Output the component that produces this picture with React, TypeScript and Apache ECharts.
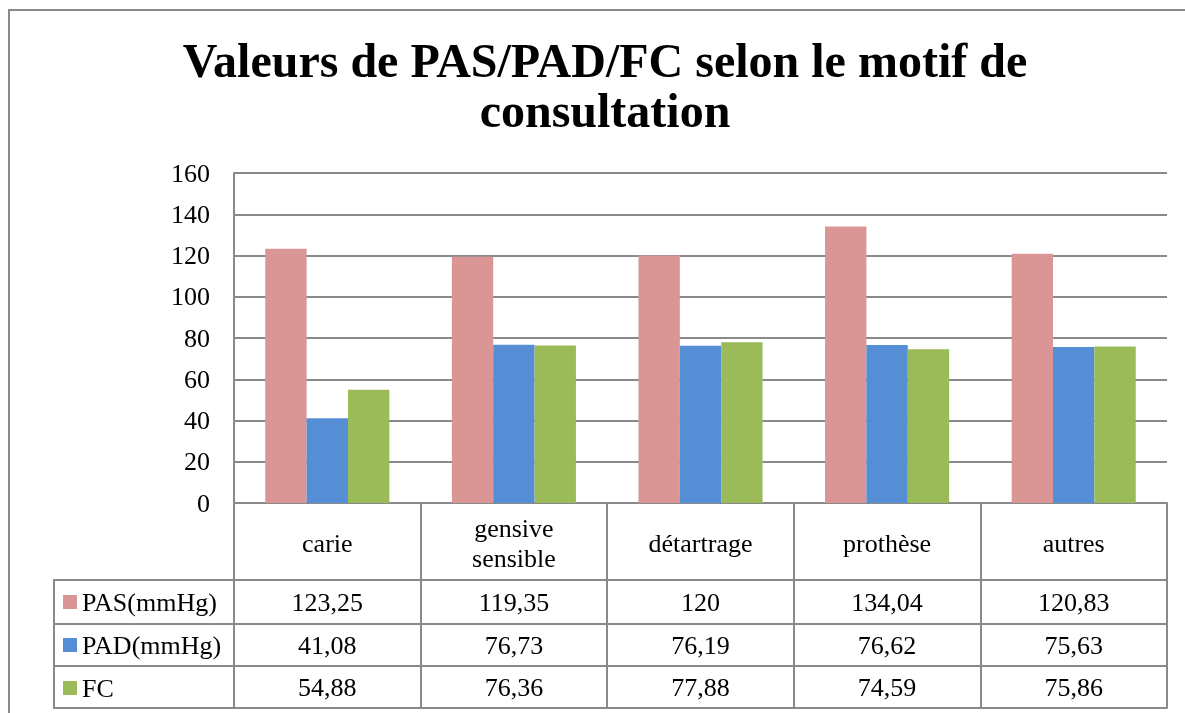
import React, { useEffect, useRef } from "react";
import * as echarts from "echarts";

const categories = ["carie", "gensive sensible", "détartrage", "prothèse", "autres"];
const seriesNames = ["PAS(mmHg)", "PAD(mmHg)", "FC"];
const pasValues = [123.25, 119.35, 120, 134.04, 120.83];
const padValues = [41.08, 76.73, 76.19, 76.62, 75.63];
const fcValues = [54.88, 76.36, 77.88, 74.59, 75.86];
const yTicks = { min: 0, max: 160, interval: 20 };
const titleLines = ["Valeurs de PAS/PAD/FC selon le motif de", "consultation"];

const colors = ["#D99694", "#558ED5", "#9BBB59"];
const FONT = "Times New Roman";
const GRID = "#8a8a8a";

const fmt = (v: number) => String(v).replace(".", ",");

export default function App() {
  const ref = useRef<HTMLDivElement>(null);
  useEffect(() => {
    if (!ref.current) return;
    const chart = echarts.init(ref.current, null, { renderer: "svg" });
    const allSeries = [pasValues, padValues, fcValues];
    const rowTop = [580, 624, 666, 708];
    const zeroY = 503;
    const labelStyle = { color: "#000", fontFamily: FONT, fontSize: 26 };
    const tableAxis = (idx: number) => {
      const vals = allSeries[idx];
      const top = rowTop[idx];
      const bottom = rowTop[idx + 1];
      return {
        type: "category",
        gridIndex: 0,
        position: "bottom",
        offset: top - zeroY,
        data: vals.map(fmt),
        axisLine: { show: true, lineStyle: { color: GRID, width: 2 } },
        axisTick: { show: true, length: bottom - top, interval: 0, lineStyle: { color: GRID, width: 2 } },
        axisLabel: {
          ...labelStyle,
          interval: 0,
          margin: (bottom - top) / 2,
          verticalAlign: "middle",
        },
      };
    };
    const option = {
      animation: false,
      color: colors,
      textStyle: { fontFamily: FONT },
      grid: { left: 234, right: 18, top: 173, bottom: 713 - zeroY, containLabel: false },
      legend: {
        orient: "vertical",
        left: 63,
        top: 589,
        padding: 0,
        itemWidth: 14,
        itemHeight: 14,
        itemGap: 17,
        icon: "rect",
        data: seriesNames,
        textStyle: { ...labelStyle, lineHeight: 26 },
        selectedMode: false,
      },
      xAxis: [
        {
          type: "category",
          position: "bottom",
          data: categories,
          axisLine: { show: true, lineStyle: { color: GRID, width: 2 } },
          axisTick: { show: true, length: 77, interval: 0, lineStyle: { color: GRID, width: 2 } },
          axisLabel: {
            ...labelStyle,
            interval: 0,
            margin: 40,
            verticalAlign: "middle",
            lineHeight: 30,
            formatter: (v: string) => (v === "gensive sensible" ? "gensive\nsensible" : v),
          },
        },
        tableAxis(0),
        tableAxis(1),
        tableAxis(2),
        {
          type: "category",
          position: "bottom",
          offset: 708 - zeroY,
          data: categories,
          axisLine: { show: true, lineStyle: { color: GRID, width: 2 } },
          axisTick: { show: false },
          axisLabel: { show: false },
        },
      ],
      yAxis: {
        type: "value",
        min: yTicks.min,
        max: yTicks.max,
        interval: yTicks.interval,
        axisLine: { show: true, lineStyle: { color: GRID, width: 2 } },
        axisTick: { show: false },
        splitLine: { show: true, lineStyle: { color: GRID, width: 2 } },
        axisLabel: { ...labelStyle, margin: 24 },
      },
      series: allSeries.map((vals, i) => ({
        name: seriesNames[i],
        type: "bar",
        xAxisIndex: 0,
        data: vals,
        barGap: "0%",
        barCategoryGap: "33.5%",
        itemStyle: { color: colors[i] },
      })),
      graphic: [
        {
          type: "polyline",
          shape: { points: [[9, 760], [9, 10], [1300, 10]] },
          style: { fill: "none", stroke: GRID, lineWidth: 2 },
          z: 0,
        },
        {
          type: "text",
          x: 605,
          y: 85,
          style: {
            text: titleLines.join("\n"),
            fontFamily: FONT,
            fontWeight: "bold",
            fontSize: 48,
            lineHeight: 50,
            align: "center",
            verticalAlign: "middle",
            fill: "#000",
          },
        },
        { type: "line", shape: { x1: 54, y1: 579, x2: 54, y2: 709 }, style: { stroke: GRID, lineWidth: 2 } },
        ...rowTop.map((y) => ({
          type: "line",
          shape: { x1: 53, y1: y, x2: 234, y2: y },
          style: { stroke: GRID, lineWidth: 2 },
        })),
      ],
    };
    chart.setOption(option as any);
    return () => chart.dispose();
  }, []);
  return <div ref={ref} style={{ position: "fixed", left: 0, top: 0, width: 1185, height: 713 }} />;
}
